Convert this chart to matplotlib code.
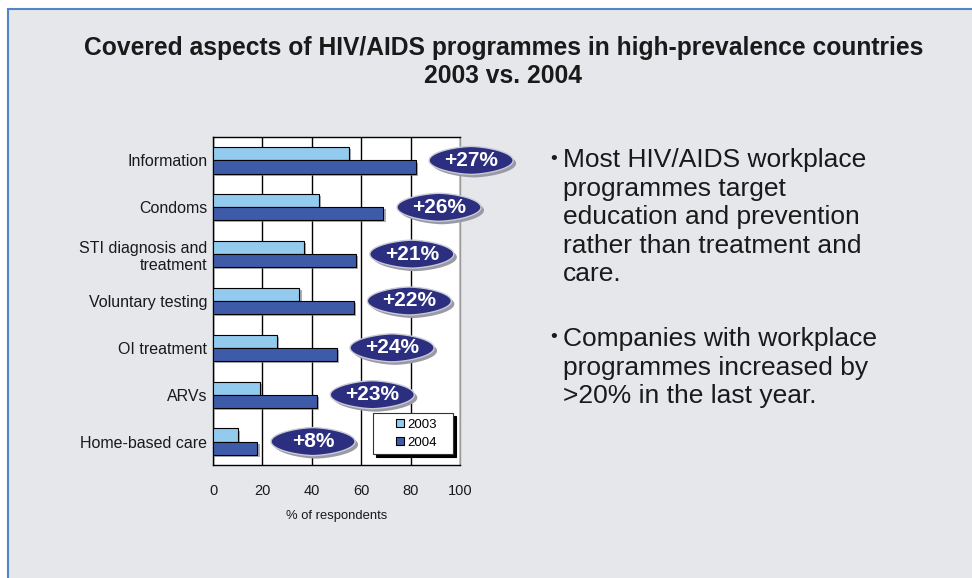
import numpy as np
import matplotlib.pyplot as plt
import matplotlib.transforms as mtransforms
from matplotlib.patches import Rectangle, Polygon
from matplotlib.lines import Line2D
from matplotlib import patheffects as pe

plt.rcParams['font.family'] = ['Liberation Sans', 'DejaVu Sans']

categories = ['Information', 'Condoms', 'STI diagnosis and\ntreatment',
              'Voluntary testing', 'OI treatment', 'ARVs', 'Home-based care']
vals_2003 = [55, 43, 37, 35, 26, 19, 10]
vals_2004 = [82, 69, 58, 57, 50, 42, 18]
changes = ['+27%', '+26%', '+21%', '+22%', '+24%', '+23%', '+8%']
xticks = [0, 20, 40, 60, 80, 100]

c2003 = '#92cbee'
c2004 = '#3d5ba8'

fig = plt.figure(figsize=(9.72, 5.78), dpi=100)
fig.patch.set_facecolor('white')

# panel background with blue border on left / top
bg = Rectangle((8/972, -0.1), 1.2, 1 - 9/578 + 0.1, transform=fig.transFigure,
               facecolor='#e6e7eb', edgecolor='#4f86c6', linewidth=1.5, zorder=-10)
fig.add_artist(bg)

fig.text(0.518, 1 - 48/578, 'Covered aspects of HIV/AIDS programmes in high-prevalence countries',
         ha='center', va='center', fontsize=17.7, fontweight='bold', color='#1a1a1a')
fig.text(0.518, 1 - 76/578, '2003 vs. 2004', ha='center', va='center',
         fontsize=17.7, fontweight='bold', color='#1a1a1a')

ax = fig.add_axes([213/972, 1 - 465/578, 247/972, 328/578])
ax.set_zorder(2)
ax.set_facecolor('white')

y = np.arange(len(categories))
h = 0.28
shadow = [pe.SimplePatchShadow(offset=(1.5, -1.5), shadow_rgbFace='#777777', alpha=0.6), pe.Normal()]
b1 = ax.barh(y - h/2, vals_2003, height=h, color=c2003, edgecolor='black',
             linewidth=0.8, zorder=3)
b2 = ax.barh(y + h/2, vals_2004, height=h, color=c2004, edgecolor='black',
             linewidth=0.8, zorder=3)
for b in list(b1) + list(b2):
    b.set_path_effects(shadow)

ax.set_xlim(0, 100)
ax.set_ylim(len(categories) - 0.5, -0.5)
ax.set_xticks(xticks)
ax.set_yticks(y)
ax.set_yticklabels(categories)
ax.tick_params(axis='y', length=0, pad=4, labelsize=11.5, colors='#1a1a1a')
ax.tick_params(axis='x', length=0, pad=14, labelsize=10.5, colors='#1a1a1a')
ax.xaxis.grid(True, color='black', linewidth=1)
ax.set_axisbelow(True)
for s in ax.spines.values():
    s.set_color('black')
    s.set_linewidth(1)
ax.spines['right'].set_color('#999999')
ax.set_xlabel('% of respondents', fontsize=9.4, labelpad=8, color='#1a1a1a')

handles = [Line2D([], [], linestyle='none', marker='s', markersize=6,
                  markerfacecolor=col, markeredgecolor='black', markeredgewidth=0.8)
           for col in (c2003, c2004)]
leg = ax.legend(handles, ['2003', '2004'], loc='lower left',
                bbox_to_anchor=(0.648, 0.0335, 0.324, 0.122), mode='expand',
                borderaxespad=0, fancybox=False, shadow={'color': 'black', 'alpha': 1},
                framealpha=1, edgecolor='#333333', fontsize=9.5, numpoints=1,
                handlelength=3.3, handletextpad=-1.1, borderpad=0.4, labelspacing=0.45)
leg.get_frame().set_linewidth(0.8)
leg.set_zorder(6)

# lens-shaped change badges
t = np.linspace(0, 2*np.pi, 160)
a, bh = 0.42, 0.14
lx = a * np.sign(np.cos(t)) * np.abs(np.cos(t)) ** 1.25
ly = bh * np.sin(t)
verts = np.column_stack([lx, ly])
for i, (v, c) in enumerate(zip(vals_2004, changes)):
    cx = v + 22.5
    tr = fig.dpi_scale_trans + mtransforms.ScaledTranslation(cx, y[i], ax.transData)
    sh = Polygon(verts + [0.03, -0.03], closed=True, transform=tr,
                 facecolor='#9a9aa6', edgecolor='none', zorder=7, clip_on=False)
    ov = Polygon(verts, closed=True, transform=tr, facecolor='#2c2f80',
                 edgecolor='#c9cad6', linewidth=1, zorder=8, clip_on=False)
    ax.add_patch(sh)
    ax.add_patch(ov)
    ax.text(cx, y[i], c, ha='center', va='center', color='white', fontsize=15,
            fontweight='bold', zorder=9, clip_on=False)

# bullet text
bullets = [
    (148, 'Most HIV/AIDS workplace\nprogrammes target\neducation and prevention\nrather than treatment and\ncare.'),
    (327, 'Companies with workplace\nprogrammes increased by\n>20% in the last year.'),
]
for ytop, txt in bullets:
    fig.text(550/972, 1 - (ytop + 11)/578, '\u2022', ha='left', va='center',
             fontsize=14, color='#1a1a1a')
    fig.text(563/972, 1 - ytop/578, txt, ha='left', va='top', fontsize=19,
             linespacing=1.24, color='#1a1a1a')

fig.savefig('out.png', dpi=100)
